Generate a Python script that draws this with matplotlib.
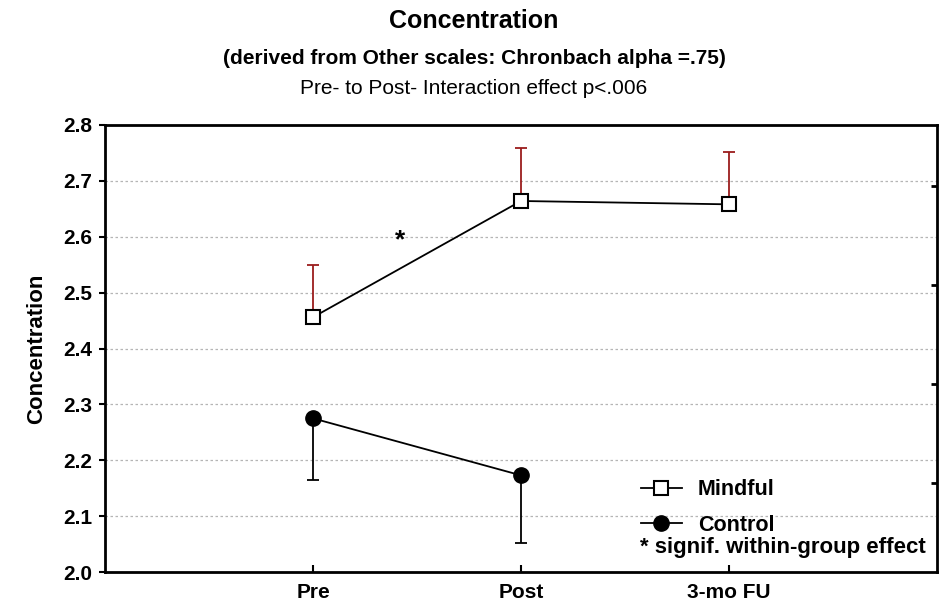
import matplotlib
matplotlib.use('Agg')
import matplotlib.pyplot as plt

plt.rcParams['font.family'] = ['Liberation Sans', 'DejaVu Sans']

# 测量时间点
time_points = ['Pre', 'Post', '3-mo FU']

# 组均值与误差（Mindful 只画上误差，Control 只画下误差）
mindful_mean = [2.456, 2.664, 2.658]
mindful_err = [0.094, 0.094, 0.093]
control_mean = [2.275, 2.173]
control_err = [0.111, 0.121]

y_ticks = [2.0, 2.1, 2.2, 2.3, 2.4, 2.5, 2.6, 2.7, 2.8]
right_ticks = [2.159, 2.337, 2.514, 2.690]

fig = plt.figure(figsize=(9.48, 6.05), dpi=100)
ax = fig.add_axes([0.1108, 0.0545, 0.8776, 0.7389])

x_m = list(range(1, len(mindful_mean) + 1))
x_c = list(range(1, len(control_mean) + 1))

ax.errorbar(x_m, mindful_mean, yerr=[[0] * len(mindful_err), mindful_err],
            fmt='none', ecolor='#9b1c1c', elinewidth=1.3, capsize=4.5,
            capthick=1.3, zorder=2)
ax.errorbar(x_c, control_mean, yerr=[control_err, [0] * len(control_err)],
            fmt='none', ecolor='black', elinewidth=1.3, capsize=4.5,
            capthick=1.3, zorder=2)

ax.plot(x_m, mindful_mean, color='black', lw=1.3, marker='s', ms=10.5,
        mfc='white', mec='black', mew=1.5, label='Mindful', zorder=3)
ax.plot(x_c, control_mean, color='black', lw=1.3, marker='o', ms=11,
        mfc='black', mec='black', label='Control', zorder=3)

# 组内显著性标记
ax.text(1.42, 2.594, '*', fontsize=19, fontweight='bold', ha='center', va='center')

ax.set_xlim(0, 4)
ax.set_ylim(2.0, 2.8)
ax.set_xticks(x_m)
ax.set_xticklabels(time_points, fontsize=15, fontweight='bold')
ax.set_yticks(y_ticks)
ax.set_yticklabels([f'{v:.1f}' for v in y_ticks], fontsize=15, fontweight='bold')
ax.set_ylabel('Concentration', fontsize=16, fontweight='bold', labelpad=12)

ax.tick_params(axis='y', direction='out', length=4, width=1.5, pad=5)
ax.tick_params(axis='x', direction='in', length=5, width=1.5, pad=8)
ax.grid(axis='y', color='#b5b5b5', ls=(0, (2, 2)), lw=0.9)
for s in ax.spines.values():
    s.set_linewidth(2)

ax2 = ax.twinx()
ax2.set_ylim(2.0, 2.8)
ax2.set_yticks(right_ticks)
ax2.set_yticklabels([])
ax2.tick_params(axis='y', direction='in', length=4, width=2)
for s in ax2.spines.values():
    s.set_visible(False)

leg = ax.legend(loc='upper left', bbox_to_anchor=(0.631, 0.232), frameon=False,
                prop={'size': 15.5, 'weight': 'bold'}, handlelength=1.9,
                handletextpad=0.75, labelspacing=0.68, borderpad=0)
fig.text(0.8255, 1 - 548 / 605, '* signif. within-group effect', fontsize=16,
         fontweight='bold', ha='center', va='center')

fig.text(0.5, 1 - 21 / 605, 'Concentration', fontsize=18, fontweight='bold',
         ha='center', va='center')
fig.text(0.5, 1 - 58 / 605, '(derived from Other scales: Chronbach alpha =.75)',
         fontsize=15, fontweight='bold', ha='center', va='center')
fig.text(0.5, 1 - 88 / 605, 'Pre- to Post- Interaction effect p<.006',
         fontsize=15, ha='center', va='center')

fig.savefig('out.png', dpi=100)
